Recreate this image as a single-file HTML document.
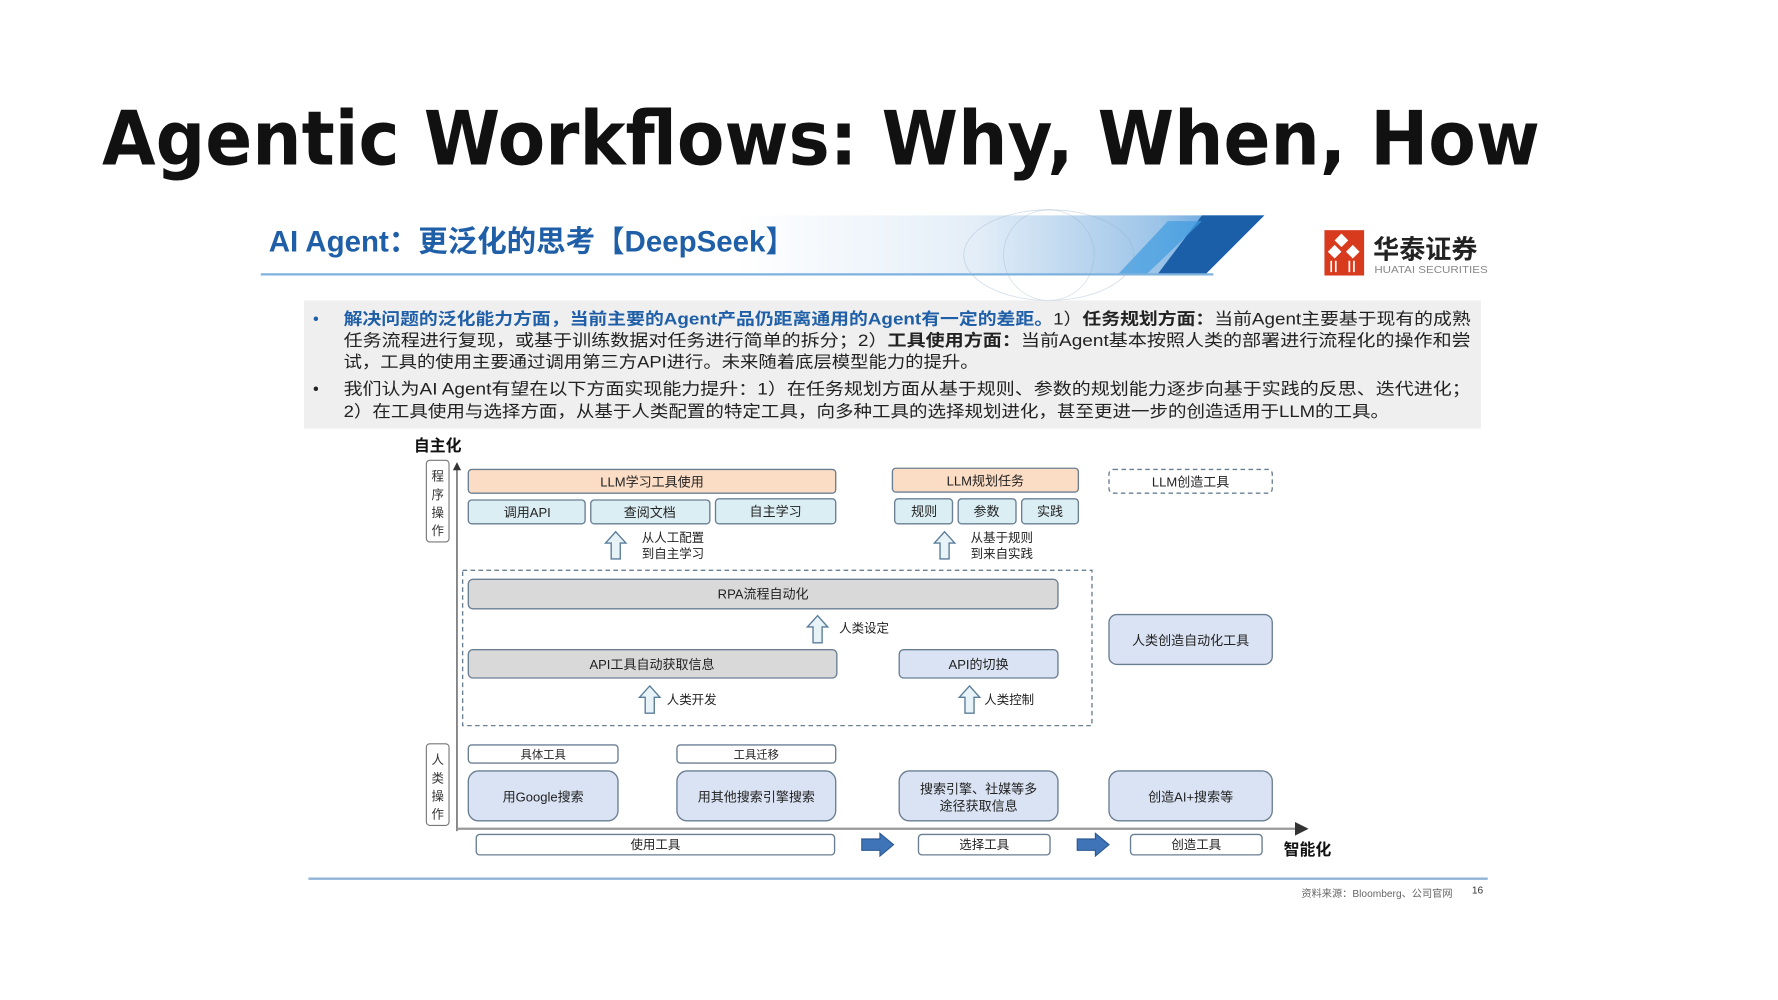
<!DOCTYPE html>
<html><head><meta charset="utf-8"><style>
html,body{margin:0;padding:0;background:#fff;width:1778px;height:1000px;overflow:hidden}
svg{display:block}
text{font-family:"Liberation Sans","Noto Sans CJK SC",sans-serif}
.s{font-family:"Liberation Serif","Noto Serif CJK SC",serif}
</style></head><body>
<svg width="1778" height="1000" viewBox="0 0 1568 882" preserveAspectRatio="none" xmlns="http://www.w3.org/2000/svg">
<defs>
<linearGradient id="band" x1="0" x2="1" y1="0" y2="0">
<stop offset="0" stop-color="#fff"/><stop offset="0.45" stop-color="#e4eef8"/><stop offset="0.8" stop-color="#9cc4e8"/><stop offset="1" stop-color="#3d8fd6"/>
</linearGradient>
<marker id="ah" markerWidth="8" markerHeight="8" refX="4" refY="4" orient="auto"><path d="M0,1 L6,4 L0,7 z" fill="#333"/></marker>
<g id="up"><path d="M0,0 L-9,10 L-4,10 L-4,24 L4,24 L4,10 L9,10 z" fill="#e8f3f8" stroke="#5a7d9a" stroke-width="1.2"/></g>
<g id="rt"><path d="M0,-5 L16,-5 L16,-10 L28,0 L16,10 L16,5 L0,5 z" fill="#3f74b8" stroke="#2c5a93" stroke-width="1"/></g>
</defs>
<text x="90" y="145" font-family="DejaVu Sans" font-weight="bold" font-size="66" fill="#111" textLength="1268" lengthAdjust="spacingAndGlyphs" style="font-family:'DejaVu Sans',sans-serif">Agentic Workflows: Why, When, How</text>

<!-- header band -->
<polygon points="650,190 1115,190 1062,243 650,243" fill="url(#band)"/>
<polygon points="1060,190 1115,190 1062,243 1020,243" fill="#1a5fa8"/>
<polygon points="1030,195 1060,195 1010,243 985,243" fill="#3f9be0" opacity="0.7"/>
<ellipse cx="925" cy="225" rx="75" ry="40" fill="none" stroke="#8fa8c4" stroke-width="0.8" opacity="0.35"/>
<ellipse cx="925" cy="225" rx="40" ry="40" fill="none" stroke="#8fa8c4" stroke-width="0.8" opacity="0.3"/>
<line x1="230" y1="242" x2="1070" y2="242" stroke="#7eb2de" stroke-width="2"/>
<text x="237" y="222" font-size="26" font-weight="bold" fill="#1f5fa8">AI Agent：更泛化的思考【DeepSeek】</text>
<!-- logo -->
<rect x="1168" y="203" width="35" height="40" fill="#d83a1e"/>
<path d="M1177,212 l6,-6 l6,6 l-6,6z M1187,222 l6,-6 l6,6 l-6,6z M1171,222 l6,-6 l6,6 l-6,6z" fill="#fff"/>
<path d="M1174,230 v10 M1178,230 v10 M1190,230 v10 M1194,230 v10" stroke="#fff" stroke-width="1.5"/>
<text x="1211" y="228" font-size="23" font-weight="bold" fill="#222">华泰证券</text>
<text x="1212" y="241" font-size="9" fill="#888" textLength="100" lengthAdjust="spacingAndGlyphs">HUATAI SECURITIES</text>

<!-- gray box -->
<rect x="268" y="265" width="1038" height="113" fill="#efefef"/>
<g font-size="14.5" class="s">
<text x="276" y="286" fill="#1f5fa8">•</text>
<text x="276" y="348" fill="#222">•</text>
<text x="303" y="286" textLength="994" lengthAdjust="spacingAndGlyphs"><tspan fill="#1f5fa8" font-weight="bold">解决问题的泛化能力方面，当前主要的Agent产品仍距离通用的Agent有一定的差距。</tspan><tspan fill="#222">1）</tspan><tspan fill="#222" font-weight="bold">任务规划方面：</tspan><tspan fill="#222">当前Agent主要基于现有的成熟</tspan></text>
<text x="303" y="305" fill="#222" textLength="994" lengthAdjust="spacingAndGlyphs">任务流程进行复现，或基于训练数据对任务进行简单的拆分；2）<tspan font-weight="bold">工具使用方面：</tspan>当前Agent基本按照人类的部署进行流程化的操作和尝</text>
<text x="303" y="324" fill="#222" textLength="560" lengthAdjust="spacingAndGlyphs">试，工具的使用主要通过调用第三方API进行。未来随着底层模型能力的提升。</text>
<text x="303" y="348" fill="#222" textLength="994" lengthAdjust="spacingAndGlyphs">我们认为AI Agent有望在以下方面实现能力提升：1）在任务规划方面从基于规则、参数的规划能力逐步向基于实践的反思、迭代进化；</text>
<text x="303" y="368" fill="#222" textLength="922" lengthAdjust="spacingAndGlyphs">2）在工具使用与选择方面，从基于人类配置的特定工具，向多种工具的选择规划进化，甚至更进一步的创造适用于LLM的工具。</text>
</g>

<!-- diagram axes -->
<text x="365" y="398" font-size="14" font-weight="bold" fill="#111">自主化</text>
<line x1="403" y1="733" x2="403" y2="410" stroke="#555" stroke-width="1.2" marker-end="url(#ah)"/>
<line x1="403" y1="731" x2="1150" y2="731" stroke="#999" stroke-width="2" marker-end="url(#ah)"/>
<rect x="376" y="406" width="20" height="72" rx="3" fill="#fff" stroke="#777"/>
<rect x="376" y="656" width="20" height="72" rx="3" fill="#fff" stroke="#777"/>
<g font-size="11" fill="#333" text-anchor="middle" class="s">
<text x="386" y="424">程</text><text x="386" y="440">序</text><text x="386" y="456">操</text><text x="386" y="472">作</text>
<text x="386" y="674">人</text><text x="386" y="690">类</text><text x="386" y="706">操</text><text x="386" y="722">作</text>
</g>

<g stroke="#6b7f93" stroke-width="1.2">
<rect x="413" y="414" width="324" height="21" rx="3" fill="#fbdcc4"/>
<rect x="413" y="441" width="103" height="21" rx="3" fill="#dbeef4"/>
<rect x="521" y="441" width="105" height="21" rx="3" fill="#dbeef4"/>
<rect x="631" y="440" width="106" height="22" rx="3" fill="#dbeef4"/>
<rect x="787" y="413" width="164" height="21" rx="3" fill="#fbdcc4"/>
<rect x="789" y="440" width="51" height="22" rx="3" fill="#dbeef4"/>
<rect x="845" y="440" width="51" height="22" rx="3" fill="#dbeef4"/>
<rect x="901" y="440" width="50" height="22" rx="3" fill="#dbeef4"/>
<rect x="978" y="414" width="144" height="21" rx="4" fill="#fff" stroke-dasharray="4,3"/>
<rect x="408" y="503" width="555" height="137" fill="none" stroke-dasharray="4,3"/>
<rect x="413" y="511" width="520" height="26" rx="4" fill="#d9d9d9"/>
<rect x="413" y="573" width="325" height="25" rx="4" fill="#d9d9d9"/>
<rect x="793" y="573" width="140" height="25" rx="4" fill="#dae3f3"/>
<rect x="978" y="542" width="144" height="44" rx="7" fill="#dae3f3"/>
<rect x="413" y="657" width="132" height="16" rx="3" fill="#fff"/>
<rect x="597" y="657" width="140" height="16" rx="3" fill="#fff"/>
<rect x="413" y="680" width="132" height="44" rx="9" fill="#dae3f3"/>
<rect x="597" y="680" width="140" height="44" rx="9" fill="#dae3f3"/>
<rect x="793" y="680" width="140" height="44" rx="9" fill="#dae3f3"/>
<rect x="978" y="680" width="144" height="44" rx="9" fill="#dae3f3"/>
<rect x="420" y="736" width="316" height="18" rx="3" fill="#fff"/>
<rect x="810" y="736" width="116" height="18" rx="3" fill="#fff"/>
<rect x="997" y="736" width="116" height="18" rx="3" fill="#fff"/>
</g>

<use href="#up" x="543" y="469"/><use href="#up" x="833" y="469"/>
<use href="#up" x="721" y="543"/><use href="#up" x="573" y="605"/><use href="#up" x="855" y="605"/>
<use href="#rt" x="760" y="745"/><use href="#rt" x="950" y="745"/>

<g font-size="11.5" fill="#222" text-anchor="middle" class="s">
<text x="575" y="429">LLM学习工具使用</text>
<text x="465" y="456">调用API</text><text x="573" y="456">查阅文档</text><text x="684" y="455">自主学习</text>
<text x="869" y="428">LLM规划任务</text>
<text x="815" y="455">规则</text><text x="870" y="455">参数</text><text x="926" y="455">实践</text>
<text x="1050" y="429">LLM创造工具</text>
<text x="673" y="528">RPA流程自动化</text>
<text x="575" y="590">API工具自动获取信息</text>
<text x="863" y="590">API的切换</text>
<text x="1050" y="569">人类创造自动化工具</text>
<text x="479" y="669" font-size="10">具体工具</text>
<text x="667" y="669" font-size="10">工具迁移</text>
<text x="479" y="707">用Google搜索</text>
<text x="667" y="707">用其他搜索引擎搜索</text>
<text x="863" y="700">搜索引擎、社媒等多</text>
<text x="863" y="715">途径获取信息</text>
<text x="1050" y="707">创造AI+搜索等</text>
<text x="578" y="749" font-size="11">使用工具</text>
<text x="868" y="749" font-size="11">选择工具</text>
<text x="1055" y="749" font-size="11">创造工具</text>
</g>
<g font-size="11" fill="#222" class="s">
<text x="566" y="478">从人工配置</text><text x="566" y="492">到自主学习</text>
<text x="856" y="478">从基于规则</text><text x="856" y="492">到来自实践</text>
<text x="740" y="558">人类设定</text>
<text x="588" y="621">人类开发</text>
<text x="868" y="621">人类控制</text>
</g>
<text x="1132" y="754" font-size="14" font-weight="bold" fill="#111">智能化</text>

<line x1="272" y1="775" x2="1312" y2="775" stroke="#8fb4d8" stroke-width="2"/>
<text x="1281" y="791" font-size="9" fill="#666" text-anchor="end">资料来源：Bloomberg、公司官网</text>
<text x="1298" y="788" font-size="9" fill="#333">16</text>
</svg>
</body></html>
